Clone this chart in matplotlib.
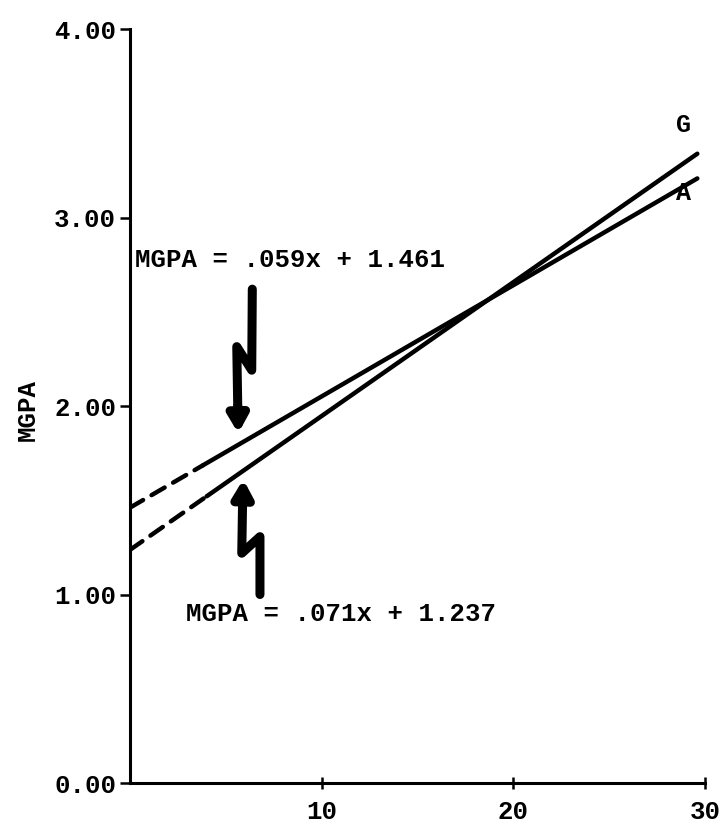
import matplotlib.pyplot as plt
import numpy as np

# regression lines: MGPA = slope * x + intercept
labels = ["G", "A"]
slopes = [0.071, 0.059]
intercepts = [1.237, 1.461]
solid_from = [4.0, 3.8]      # x where the fitted (solid) part begins
x_end = 29.6

x_ticks = [10, 20, 30]
y_ticks = [0, 1, 2, 3, 4]
y_ticklabels = ["0.00", "1.00", "2.00", "3.00", "4.00"]

eq_texts = ["MGPA = .059x + 1.461", "MGPA = .071x + 1.237"]

FONT = "Liberation Mono"
plt.rcParams["font.family"] = [FONT, "DejaVu Sans Mono"]

fig = plt.figure(figsize=(7.28, 8.27), dpi=100)
ax = fig.add_axes([0.1786, 0.0532, 0.7898, 0.9117])

for m, b, xs in zip(slopes, intercepts, solid_from):
    xd = np.array([0.0, xs])
    ax.plot(xd, m * xd + b, color="black", lw=3.2, dashes=(3.4, 2.2),
            solid_capstyle="round", dash_capstyle="round")
    xl = np.array([xs, x_end])
    ax.plot(xl, m * xl + b, color="black", lw=3.2, solid_capstyle="round")

# end labels
ax.text(28.9, 3.49, labels[0], fontsize=18, fontweight="bold",
        ha="center", va="center")
ax.text(28.9, 3.13, labels[1], fontsize=18, fontweight="bold",
        ha="center", va="center")

# equation captions
ax.text(0.26, 2.775, eq_texts[0], fontsize=18.5, fontweight="bold",
        ha="left", va="center")
ax.text(2.92, 0.897, eq_texts[1], fontsize=18.5, fontweight="bold",
        ha="left", va="center")

# zig-zag pointer arrows
def bolt(pts, tip):
    pts = np.array(pts)
    ax.plot(pts[:, 0], pts[:, 1], color="black", lw=6.5,
            solid_capstyle="round", solid_joinstyle="round")
    ax.annotate("", xy=tip, xytext=pts[-1],
                arrowprops=dict(arrowstyle="-|>,head_length=0.7,head_width=0.4",
                                color="black", lw=6.5, mutation_scale=14,
                                shrinkA=0, shrinkB=0))

bolt([(6.38, 2.62), (6.35, 2.19), (5.57, 2.315), (5.62, 2.0)], (5.65, 1.855))
bolt([(6.78, 1.0), (6.78, 1.307), (5.83, 1.219), (5.87, 1.47)], (5.91, 1.611))

ax.set_xlim(0, 30)
ax.set_ylim(0, 4)
for s in ["top", "right"]:
    ax.spines[s].set_visible(False)
for s in ["left", "bottom"]:
    ax.spines[s].set_linewidth(2.2)

ax.set_xticks(x_ticks)
ax.set_xticklabels([str(t) for t in x_ticks])
ax.set_yticks(y_ticks)
ax.set_yticklabels(y_ticklabels)
ax.tick_params(axis="x", direction="inout", length=9, width=1.8, pad=8,
               labelsize=18.5)
ax.tick_params(axis="y", direction="out", length=7, width=1.8, pad=3,
               labelsize=18.5)
for lab in ax.get_xticklabels() + ax.get_yticklabels():
    lab.set_fontweight("bold")

ax.set_ylabel("MGPA", fontsize=18.5, fontweight="bold")
ax.yaxis.set_label_coords(-0.157, 0.495)

fig.savefig("out.png", dpi=100)
